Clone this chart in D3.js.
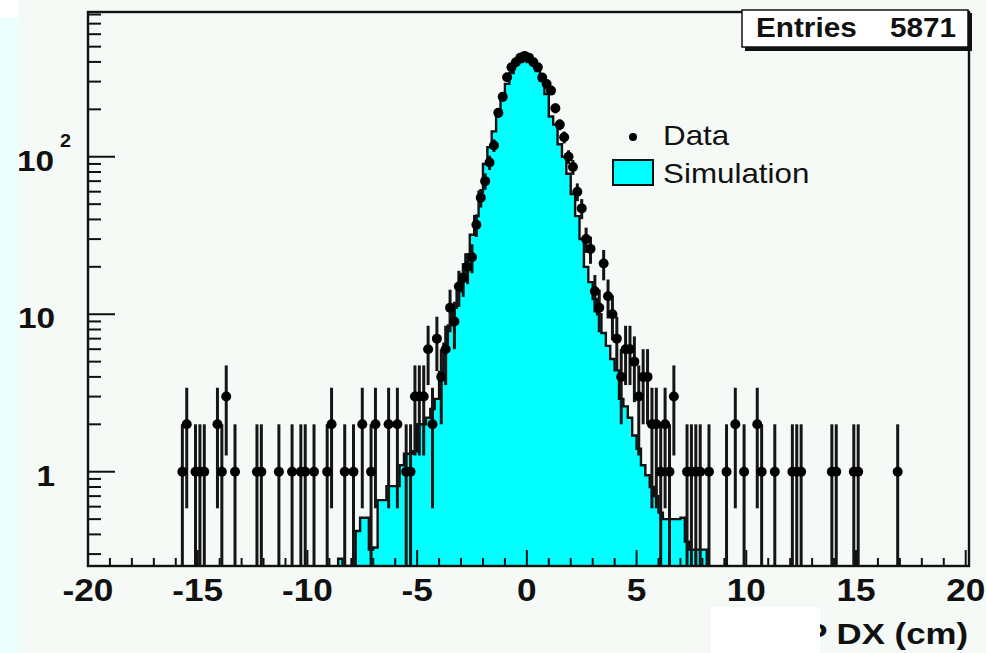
<!DOCTYPE html>
<html>
<head>
<meta charset="utf-8">
<script src="https://cdn.jsdelivr.net/npm/d3@7"></script>
<style>
  html, body { margin: 0; padding: 0; background: #f6faf7; }
  svg { display: block; }
  text { font-family: "Liberation Sans", Arial, Helvetica, sans-serif; fill: #111; }
</style>
</head>
<body>
<div id="chart"></div>
<script>
/* global d3 */

// histogram binning (cm)
const binWidth = 0.2
const xDomain = [-20, 20.15]
const yDomain = [0.252, 830]

// simulation, consecutive bins starting at this centre
const simFirstCenter = -8.5
const simCounts = [
  0.28, 0, 0, 0, 0.42, 0.51, 0.51, 0.32, 0.33, 0.66,
  0.66, 0.81, 0.81, 0.81, 1.1, 1.3, 1.3, 1.35, 2.0, 2.0,
  2.2, 2.5, 2.9, 4.3, 6.5, 8.5, 11, 14, 18, 24,
  32, 42, 60, 90, 115, 145, 195, 240, 290, 340,
  395, 400, 405, 400, 390, 350, 330, 250, 180, 160,
  120, 100, 78, 58, 42, 30, 20, 16, 12.5, 10,
  7.6, 6.3, 5.2, 4.4, 2.9, 2.6, 2.2, 1.7, 1.4, 1.1,
  0.95, 0.8, 0.7, 0.55, 0.5, 0.5, 0.5, 0.5, 0.51, 0.36,
  0.32, 0.32, 0.32, 0.32
]

// data: bin centre and entries
const dataCenters = [
  -15.7, -15.5, -15.1, -14.9, -14.7, -14.1, -13.9, -13.7, -13.3, -12.3,
  -12.1, -11.3, -10.7, -10.3, -10.1, -9.7, -9.1, -8.9, -8.3, -7.9,
  -7.5, -7.1, -6.9, -6.3, -5.9, -5.5, -5.3, -5.1, -4.9, -4.7,
  -4.5, -4.3, -4.1, -3.9, -3.7, -3.5, -3.3, -3.1, -2.9, -2.7,
  -2.5, -2.3, -2.1, -1.9, -1.7, -1.5, -1.3, -1.1, -0.9, -0.7,
  -0.5, -0.3, -0.1, 0.1, 0.3, 0.5, 0.7, 0.9, 1.1, 1.3,
  1.5, 1.7, 1.9, 2.1, 2.3, 2.5, 2.7, 2.9, 3.1, 3.3,
  3.5, 3.7, 3.9, 4.1, 4.3, 4.5, 4.7, 4.9, 5.1, 5.3,
  5.5, 5.7, 5.9, 6.1, 6.3, 6.5, 6.7, 7.3, 7.5, 7.7,
  7.9, 8.3, 9.1, 9.5, 9.9, 10.5, 10.7, 11.3, 12.1, 12.3,
  12.5, 13.9, 14.1, 14.9, 15.1, 16.9
]
const dataCounts = [
  1, 2, 1, 1, 1, 2, 1, 3, 1, 1,
  1, 1, 1, 1, 1, 1, 1, 2, 1, 1,
  2, 1, 2, 2, 2, 1, 1, 3, 3, 3,
  6, 2, 7, 4, 6, 11, 9, 15, 17, 20,
  23, 37, 55, 70, 92, 118, 190, 240, 320, 370,
  398, 425, 437, 425, 398, 370, 318, 290, 263, 203,
  160, 133, 100, 86, 60, 47, 30, 26, 14, 11,
  21, 13, 10, 7, 4, 6, 6, 5, 3, 4,
  4, 2, 2, 1, 2, 1, 3, 1, 1, 1,
  1, 1, 1, 2, 1, 2, 1, 1, 1, 1,
  1, 1, 1, 1, 1, 1
]

const xTicks = [-20, -15, -10, -5, 0, 5, 10, 15, 20]
const yTicks = [1, 10, 100]
const yTickLabels = ['1', '10', '10^2']
const entries = 5871
const legendNames = ['Data', 'Simulation']

// canvas
const width = 986, height = 653
const padL = 88, padR = 969, padT = 12, padB = 566
const cyan = '#00ffff'

const svg = d3.select('#chart').append('svg')
  .attr('width', width)
  .attr('height', height)

// backgrounds of the original screenshot
svg.append('rect').attr('width', width).attr('height', height).attr('fill', '#f6faf7')
svg.append('rect').attr('width', 19).attr('height', height).attr('fill', '#ecfefe')
svg.append('rect').attr('width', 19).attr('height', 17).attr('fill', '#ffffff')

const x = d3.scaleLinear().domain(xDomain).range([padL, padR])
const y = d3.scaleLog().domain(yDomain).range([padB, padT])
const yClamp = v => v > 0 ? y(Math.max(v, yDomain[0])) : padB

svg.append('clipPath').attr('id', 'plot')
  .append('rect').attr('x', padL).attr('y', padT).attr('width', padR - padL).attr('height', padB - padT)

const plot = svg.append('g').attr('clip-path', 'url(#plot)')

// simulation histogram (filled steps)
const simBins = simCounts.map((v, i) => ({ c: simFirstCenter + i * binWidth, v }))
let pts = [[x(simBins[0].c - binWidth / 2), padB]]
simBins.forEach(b => {
  const yy = yClamp(b.v)
  pts.push([x(b.c - binWidth / 2), yy])
  pts.push([x(b.c + binWidth / 2), yy])
})
pts.push([x(simBins[simBins.length - 1].c + binWidth / 2), padB])
plot.append('path')
  .attr('d', d3.line()(pts))
  .attr('fill', cyan)
  .attr('stroke', '#111')
  .attr('stroke-width', 2.4)

// data with sqrt(N) error bars
const data = dataCenters.map((c, i) => ({ c, n: dataCounts[i] }))
plot.selectAll('line.err')
  .data(data)
  .enter()
  .append('line')
  .attr('class', 'err')
  .attr('x1', d => x(d.c))
  .attr('x2', d => x(d.c))
  .attr('y1', d => yClamp(d.n - Math.sqrt(d.n)))
  .attr('y2', d => y(d.n + Math.sqrt(d.n)))
  .attr('stroke', '#151515')
  .attr('stroke-width', 3)
plot.selectAll('circle')
  .data(data)
  .enter()
  .append('circle')
  .attr('cx', d => x(d.c))
  .attr('cy', d => y(d.n))
  .attr('r', 5)
  .attr('fill', '#000')

// frame
svg.append('rect')
  .attr('x', padL).attr('y', padT)
  .attr('width', padR - padL).attr('height', padB - padT)
  .attr('fill', 'none').attr('stroke', '#111').attr('stroke-width', 2.4)

// y ticks, inward
const yMinor = []
;[0.1, 1, 10, 100].forEach(dec => d3.range(2, 10).forEach(k => {
  const v = dec * k
  if (v >= yDomain[0] && v <= yDomain[1]) yMinor.push(v)
}))
svg.selectAll('line.ymin').data(yMinor).enter().append('line')
  .attr('x1', padL).attr('x2', padL + 13)
  .attr('y1', d => y(d)).attr('y2', d => y(d))
  .attr('stroke', '#111').attr('stroke-width', 2)
svg.selectAll('line.ymaj').data(yTicks).enter().append('line')
  .attr('x1', padL).attr('x2', padL + 27)
  .attr('y1', d => y(d)).attr('y2', d => y(d))
  .attr('stroke', '#111').attr('stroke-width', 2)

// x ticks, inward
const xMinor = d3.range(-19, 20).filter(v => v % 5 !== 0)
svg.selectAll('line.xmin').data(xMinor).enter().append('line')
  .attr('x1', d => x(d)).attr('x2', d => x(d))
  .attr('y1', padB).attr('y2', padB - 8)
  .attr('stroke', '#111').attr('stroke-width', 2)
svg.selectAll('line.xmaj').data(xTicks).enter().append('line')
  .attr('x1', d => x(d)).attr('x2', d => x(d))
  .attr('y1', padB).attr('y2', padB - 16)
  .attr('stroke', '#111').attr('stroke-width', 2)

// stretched text, like the original
const label = (px, py, str, size, weight, anchor, sx) => svg.append('text')
  .attr('transform', `translate(${px},${py}) scale(${sx},1)`)
  .attr('font-size', size)
  .attr('font-weight', weight)
  .attr('text-anchor', anchor)
  .text(str)

xTicks.forEach(t => label(x(t), 601, String(t), 32, 'bold', 'middle', 1.1))

yTicks.forEach((t, i) => {
  const parts = yTickLabels[i].split('^')
  const base = y(t) + 14
  label(parts[1] ? 54 : 55, base, parts[0], 29, 'bold', 'end', 1.15)
  if (parts[1]) label(60, base - 24, parts[1], 18, 'bold', 'start', 1.1)
})

// axis title, partly hidden in the original
label(968, 644, 'P DX (cm)', 29, 'bold', 'end', 1.2)
svg.append('rect').attr('x', 711).attr('y', 607).attr('width', 109).attr('height', 46).attr('fill', '#ffffff')

// stats box
svg.append('rect').attr('x', 745).attr('y', 13).attr('width', 227).attr('height', 38).attr('fill', '#111')
svg.append('rect').attr('x', 742).attr('y', 10).attr('width', 226).attr('height', 37)
  .attr('fill', '#ffffff').attr('stroke', '#111').attr('stroke-width', 1.5)
label(756, 37, 'Entries', 27, 'bold', 'start', 1.1)
label(956, 37, String(entries), 27, 'bold', 'end', 1.1)

// legend
svg.append('circle').attr('cx', 633).attr('cy', 137).attr('r', 4).attr('fill', '#000')
label(663, 145, legendNames[0], 28, 'normal', 'start', 1.12)
svg.append('rect').attr('x', 613).attr('y', 160).attr('width', 40).attr('height', 25)
  .attr('fill', cyan).attr('stroke', '#111').attr('stroke-width', 2)
label(663, 183, legendNames[1], 28, 'normal', 'start', 1.12)
</script>
</body>
</html>
